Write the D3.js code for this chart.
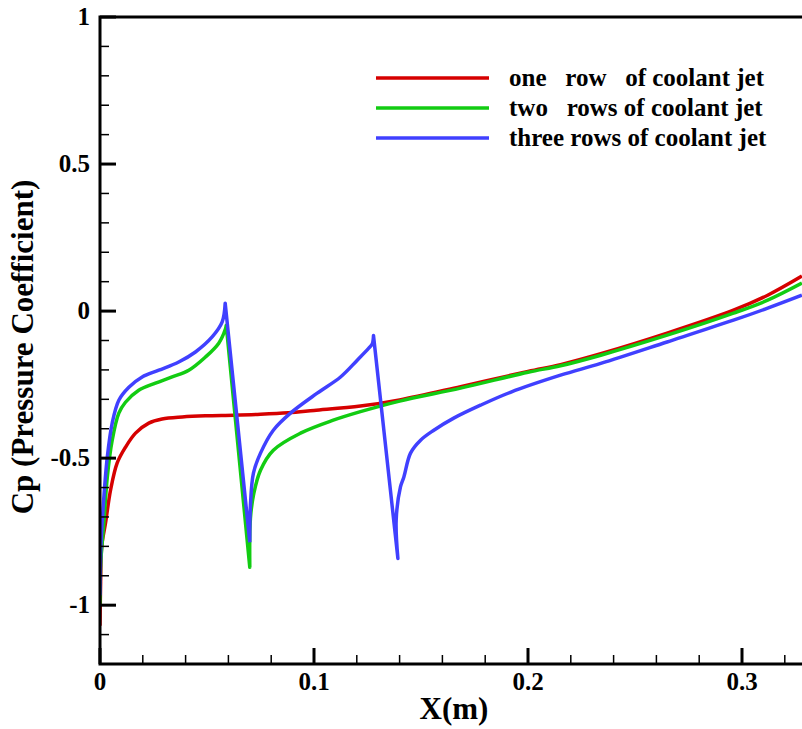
<!DOCTYPE html>
<html>
<head>
<meta charset="utf-8">
<script src="https://cdn.jsdelivr.net/npm/d3@7"></script>
<style>
  body { margin: 0; background: #fff; }
  svg { display: block; }
  text { font-family: "Liberation Serif", "Times New Roman", serif; font-weight: bold; }
</style>
</head>
<body>
<svg id="chart" width="802" height="729"></svg>
<script>
// data: [x (m), Cp]
const oneRow = [
  [0, -1.07], [0.0003, -0.92], [0.0008, -0.80], [0.0026, -0.72], [0.0049, -0.61],
  [0.008, -0.517], [0.0119, -0.463], [0.0166, -0.415], [0.0228, -0.381], [0.029, -0.367],
  [0.0384, -0.36], [0.0493, -0.356], [0.0625, -0.354], [0.075, -0.351], [0.088, -0.346],
  [0.100, -0.338], [0.1217, -0.323], [0.140, -0.302], [0.1685, -0.257], [0.200, -0.205],
  [0.2152, -0.182], [0.234, -0.145], [0.265, -0.075], [0.296, 0.003], [0.312, 0.054],
  [0.328, 0.119]
];
const twoRows = [
  [0, -1.0], [0.0004, -0.85], [0.0018, -0.721], [0.0034, -0.565], [0.0057, -0.439],
  [0.0088, -0.347], [0.0119, -0.31], [0.0181, -0.269], [0.0259, -0.245], [0.0337, -0.224],
  [0.0415, -0.201], [0.0493, -0.156], [0.0555, -0.109], [0.0586, -0.061], [0.059, -0.048],
  [0.070, -0.871], [0.0703, -0.704], [0.0719, -0.619], [0.075, -0.541], [0.081, -0.473],
  [0.0937, -0.415], [0.109, -0.371], [0.1217, -0.342], [0.140, -0.306], [0.1685, -0.262],
  [0.200, -0.208], [0.2152, -0.186], [0.234, -0.150], [0.265, -0.082], [0.296, -0.007],
  [0.312, 0.037], [0.328, 0.095]
];
const threeRows = [
  [0, -0.966], [0.0004, -0.80], [0.0016, -0.653], [0.0034, -0.497], [0.0057, -0.381],
  [0.0088, -0.303], [0.0135, -0.259], [0.0197, -0.224], [0.0275, -0.201], [0.0368, -0.173],
  [0.0446, -0.139], [0.0524, -0.088], [0.0571, -0.037], [0.0585, 0.027],
  [0.070, -0.786], [0.0703, -0.66], [0.0717, -0.551], [0.075, -0.483], [0.081, -0.405],
  [0.089, -0.347], [0.1015, -0.279], [0.1124, -0.224], [0.1202, -0.167], [0.1256, -0.126],
  [0.1272, -0.112], [0.1278, -0.083],
  [0.1392, -0.841], [0.1384, -0.711], [0.1404, -0.598], [0.142, -0.564], [0.1451, -0.483],
  [0.1498, -0.439], [0.156, -0.405], [0.1653, -0.364], [0.1778, -0.320], [0.1918, -0.276],
  [0.2152, -0.218], [0.234, -0.178], [0.265, -0.105], [0.296, -0.031], [0.312, 0.010],
  [0.328, 0.054]
];

const seriesNames = ["one   row   of coolant jet", "two   rows of coolant jet", "three rows of coolant jet"];
const seriesColors = ["#d60000", "#12cc12", "#4040ff"];
const seriesData = [oneRow, twoRows, threeRows];

const xTicks = [0, 0.1, 0.2, 0.3];
const yTicks = [-1, -0.5, 0, 0.5, 1];

const svg = d3.select("#chart");
const plotLeft = 100, plotTop = 17, plotBottom = 664;

const x = d3.scaleLinear().domain([0, 0.33]).range([plotLeft, plotLeft + 0.33 * 2140]);
const y = d3.scaleLinear().domain([-1.2, 1]).range([plotBottom, plotTop]);

svg.append("clipPath").attr("id", "clip")
  .append("rect").attr("x", plotLeft).attr("y", plotTop)
  .attr("width", 802 - plotLeft).attr("height", plotBottom - plotTop);

// smooth pieces, straight lines across the sudden drops behind each jet
const smooth = d3.line()
  .x(d => x(d[0])).y(d => y(d[1]))
  .curve(d3.curveCatmullRom.alpha(0.5));
function pathFor(s) {
  let out = "", start = 0;
  for (let i = 0; i < s.length - 1; i++) {
    if (s[i + 1][1] - s[i][1] < -0.3) {
      out += smooth(s.slice(start, i + 1));
      out += `L${x(s[i + 1][0])},${y(s[i + 1][1])}`;
      start = i + 1;
    }
  }
  const rest = smooth(s.slice(start));
  return out + (out ? "L" + rest.slice(1) : rest);
}

const plot = svg.append("g").attr("clip-path", "url(#clip)");
seriesData.forEach((s, i) => {
  plot.append("path")
    .attr("fill", "none")
    .attr("stroke", seriesColors[i])
    .attr("stroke-width", 3.5)
    .attr("stroke-linejoin", "round")
    .attr("d", pathFor(s));
});

// minor ticks
const xMinor = d3.range(0, 0.331, 0.02).filter(v => Math.abs(v * 10 - Math.round(v * 10)) > 1e-6);
const yMinor = d3.range(-1.2, 1.001, 0.1).filter(v => Math.abs(v * 2 - Math.round(v * 2)) > 1e-6);

const axes = svg.append("g").attr("stroke", "#000");
axes.selectAll(".xmin").data(xMinor).join("line")
  .attr("x1", d => x(d)).attr("x2", d => x(d))
  .attr("y1", plotBottom).attr("y2", plotBottom - 9).attr("stroke-width", 1.5);
axes.selectAll(".xmaj").data(xTicks).join("line")
  .attr("x1", d => x(d)).attr("x2", d => x(d))
  .attr("y1", plotBottom).attr("y2", plotBottom - 16).attr("stroke-width", 3);
axes.selectAll(".ymin").data(yMinor).join("line")
  .attr("x1", plotLeft).attr("x2", plotLeft + 9)
  .attr("y1", d => y(d)).attr("y2", d => y(d)).attr("stroke-width", 1.5);
axes.selectAll(".ymaj").data(yTicks).join("line")
  .attr("x1", plotLeft).attr("x2", plotLeft + 16)
  .attr("y1", d => y(d)).attr("y2", d => y(d)).attr("stroke-width", 3);

// frame
svg.append("path")
  .attr("d", `M805,${plotTop}H${plotLeft}V${plotBottom}H805`)
  .attr("fill", "none").attr("stroke", "#000").attr("stroke-width", 3);

// tick labels
const fmt = d => String(d);
svg.selectAll(".xl").data(xTicks).join("text")
  .attr("x", d => x(d)).attr("y", 690)
  .attr("text-anchor", "middle").attr("font-size", 25)
  .text(fmt);
svg.selectAll(".yl").data(yTicks).join("text")
  .attr("x", 90).attr("y", d => y(d) + 8)
  .attr("text-anchor", "end").attr("font-size", 25)
  .text(fmt);

// axis titles
svg.append("text").attr("x", 454).attr("y", 719)
  .attr("text-anchor", "middle").attr("font-size", 31).text("X(m)");
svg.append("text")
  .attr("transform", "translate(33,347) rotate(-90)")
  .attr("text-anchor", "middle").attr("font-size", 31)
  .text("Cp (Pressure Coefficient)");

// legend
const legend = svg.append("g");
seriesNames.forEach((name, i) => {
  const ly = 78 + i * 30;
  legend.append("line")
    .attr("x1", 376).attr("x2", 489).attr("y1", ly).attr("y2", ly)
    .attr("stroke", seriesColors[i]).attr("stroke-width", 3.5);
  legend.append("text")
    .attr("x", 509).attr("y", ly + 8)
    .attr("font-size", 25)
    .style("white-space", "pre")
    .text(name);
});
</script>
</body>
</html>
